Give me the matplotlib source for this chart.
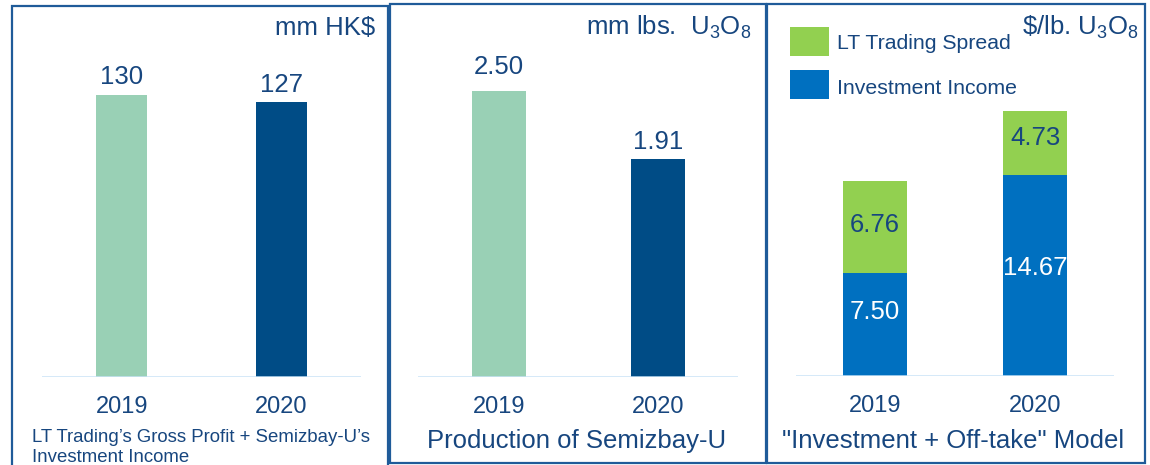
import matplotlib
matplotlib.use("Agg")
import matplotlib.pyplot as plt
from matplotlib.patches import Rectangle

plt.rcParams['font.family'] = ['Liberation Sans', 'DejaVu Sans']
plt.rcParams['mathtext.fontset'] = 'custom'
plt.rcParams['mathtext.rm'] = 'Liberation Sans'
plt.rcParams['mathtext.it'] = 'Liberation Sans:italic'

# ---------------- data ----------------
years = ["2019", "2020"]
gross_profit = [130, 127]               # mm HK$
production = [2.50, 1.91]               # mm lbs U3O8
investment_income = [7.50, 14.67]       # $/lb U3O8
trading_spread = [6.76, 4.73]           # $/lb U3O8

panel1_caption = ["LT Trading\u2019s Gross Profit + Semizbay-U\u2019s", "Investment Income"]
panel2_caption = "Production of Semizbay-U"
panel3_caption = "\"Investment + Off-take\" Model"
unit1 = "mm HK$"
unit2 = r"mm lbs.  $\mathregular{U_3O_8}$"
unit3 = r"\$/lb. $\mathregular{U_3O_8}$"
legend_labels = ["LT Trading Spread", "Investment Income"]

# ---------------- style ----------------
W, H = 1150, 465
C_LIGHT = "#99D0B5"
C_DARK = "#004C86"
C_GREEN = "#92D050"
C_BLUE = "#0070C0"
C_TEXT = "#17467F"
C_BASE = "#C9E3F7"
C_BORDER = "#1F5B99"

fig = plt.figure(figsize=(W / 100, H / 100), dpi=100)


def fx(x):
    return x / W


def fy(y):
    return 1 - y / H


def make_axes(x0, x1, base, top):
    ax = fig.add_axes([fx(x0), fy(base), (x1 - x0) / W, (base - top) / H])
    for s in ax.spines.values():
        s.set_visible(False)
    ax.set_yticks([])
    ax.tick_params(axis='x', length=0, pad=13.5, labelsize=17, labelcolor=C_TEXT)
    ax.set_facecolor("none")
    return ax


def border(x0, y0, x1, y1):
    fig.patches.append(Rectangle((fx(x0), fy(y1)), (x1 - x0) / W, (y1 - y0) / H,
                                 transform=fig.transFigure, fill=False,
                                 edgecolor=C_BORDER, linewidth=1.6, clip_on=False))


TOP = 10
x = [0, 1]

# ---------------- panel 1 ----------------
ax1 = make_axes(42, 361, 377, TOP)
ax1.set_xlim(-0.50, 1.50)
ax1.set_ylim(0, (377 - TOP) / 2.168)
ax1.bar(x, gross_profit, width=0.32, color=[C_LIGHT, C_DARK], zorder=2)
ax1.axhline(0, color=C_BASE, lw=1.8, zorder=3)
ax1.set_xticks(x, years)
for xi, v, off in zip(x, gross_profit, [11, 10]):
    ax1.annotate(f"{v:.0f}", (xi, v), xytext=(0, off * 0.72), textcoords="offset points",
                 ha="center", va="baseline", fontsize=18.5, color=C_TEXT)
fig.text(fx(375), fy(35), unit1, ha="right", va="baseline", fontsize=18.5, color=C_TEXT)
fig.text(fx(32), fy(442), panel1_caption[0], ha="left", va="baseline", fontsize=13.4, color=C_TEXT)
fig.text(fx(32), fy(462), panel1_caption[1], ha="left", va="baseline", fontsize=13.4, color=C_TEXT)
border(12, 6, 388, 475)

# ---------------- panel 2 ----------------
ax2 = make_axes(418, 738, 377, TOP)
ax2.set_xlim(-0.51, 1.50)
ax2.set_ylim(0, (377 - TOP) / 114.3)
ax2.bar(x, production, width=0.34, color=[C_LIGHT, C_DARK], zorder=2)
ax2.axhline(0, color=C_BASE, lw=1.8, zorder=3)
ax2.set_xticks(x, years)
for xi, v, off in zip(x, production, [17, 10]):
    ax2.annotate(f"{v:.2f}", (xi, v), xytext=(0, off * 0.72), textcoords="offset points",
                 ha="center", va="baseline", fontsize=18.5, color=C_TEXT)
fig.text(fx(751), fy(35), unit2, ha="right", va="baseline", fontsize=18.5, color=C_TEXT)
fig.text(fx(577), fy(448), panel2_caption, ha="center", va="baseline", fontsize=18.5, color=C_TEXT)
border(390, 4, 766, 463)

# ---------------- panel 3 ----------------
ax3 = make_axes(796, 1114, 376, TOP)
ax3.set_xlim(-0.49, 1.49)
ax3.set_ylim(0, (376 - TOP) / 13.68)
ax3.bar(x, investment_income, width=0.40, color=C_BLUE, zorder=2)
ax3.bar(x, trading_spread, bottom=investment_income, width=0.40, color=C_GREEN, zorder=2)
ax3.axhline(0, color=C_BASE, lw=1.8, zorder=3)
ax3.set_xticks(x, years)
inv_offsets = [13, 8]
spr_offsets = [2, 5]
for xi, v, off in zip(x, investment_income, inv_offsets):
    ax3.annotate(f"{v:.2f}", (xi, v / 2), xytext=(0, off * 0.72), textcoords="offset points",
                 ha="center", va="center", fontsize=18.5, color="white", zorder=4)
for xi, b, v, off in zip(x, investment_income, trading_spread, spr_offsets):
    ax3.annotate(f"{v:.2f}", (xi, b + v / 2), xytext=(0, off * 0.72), textcoords="offset points",
                 ha="center", va="center", fontsize=18.5, color=C_TEXT, zorder=4)
fig.text(fx(1139), fy(35), unit3, ha="right", va="baseline", fontsize=18.5, color=C_TEXT)
fig.text(fx(953), fy(448), panel3_caption, ha="center", va="baseline", fontsize=18.5, color=C_TEXT)

# legend (manual squares)
for (y0, y1), col, lab, base in zip([(27, 56), (70, 99)], [C_GREEN, C_BLUE], legend_labels, [49, 94]):
    fig.patches.append(Rectangle((fx(790), fy(y1)), 39 / W, (y1 - y0) / H,
                                 transform=fig.transFigure, color=col, lw=0))
    fig.text(fx(837), fy(base), lab, ha="left", va="baseline", fontsize=15.3, color=C_TEXT)
border(767, 4, 1145, 463)

fig.savefig("out.png", dpi=100)
